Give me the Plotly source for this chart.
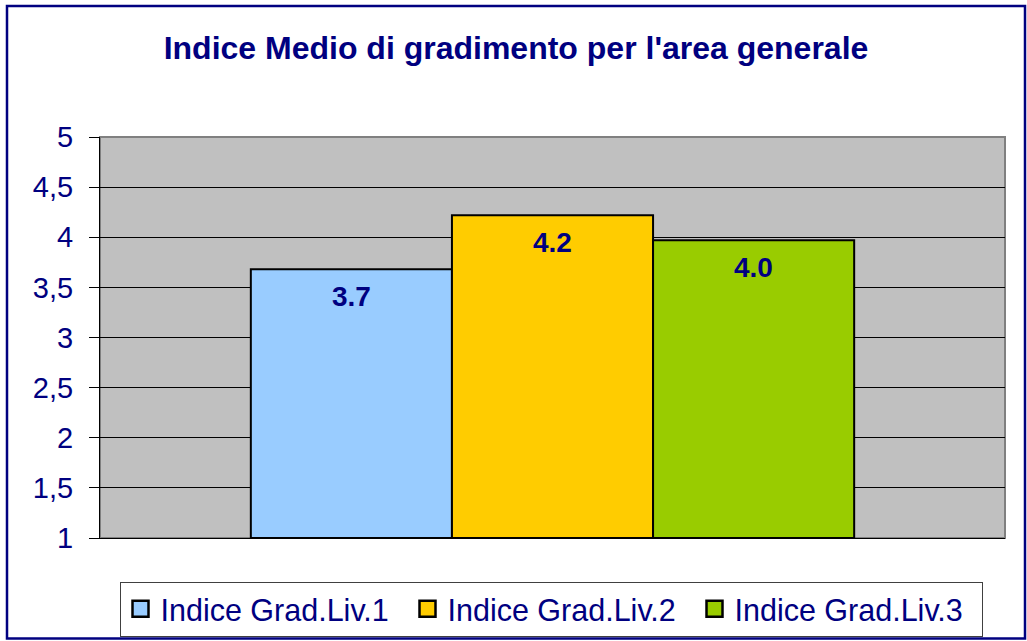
import plotly.graph_objects as go

series_names = ["Indice Grad.Liv.1", "Indice Grad.Liv.2", "Indice Grad.Liv.3"]
series_values = [3.68, 4.22, 3.97]
series_labels = ["3.7", "4.2", "4.0"]
series_colors = ["#99CCFF", "#FFCC00", "#99CC00"]
bar_positions = [0, 1, 2]
y_tickvals = [1, 1.5, 2, 2.5, 3, 3.5, 4, 4.5, 5]
y_ticktext = ["1", "1,5", "2", "2,5", "3", "3,5", "4", "4,5", "5"]

NAVY = "#000080"
FONT = "Arial, Liberation Sans, sans-serif"

fig = go.Figure()
for name, pos, val, col in zip(series_names, bar_positions, series_values, series_colors):
    fig.add_trace(go.Bar(
        x=[pos], y=[val - 1], base=1, width=1, name=name, showlegend=False,
        marker=dict(color=col, line=dict(color="black", width=2)),
        hoverinfo="skip",
    ))
# legend entries (larger square swatches)
for name, col in zip(series_names, series_colors):
    fig.add_trace(go.Scatter(
        x=[None], y=[None], mode="markers", name=name,
        marker=dict(symbol="square", size=16, color=col, line=dict(color="black", width=2.5)),
        hoverinfo="skip",
    ))

for pos, val, lab in zip(bar_positions, series_values, series_labels):
    fig.add_annotation(x=pos, y=val, text="<b>%s</b>" % lab, showarrow=False,
                       yanchor="top", yshift=-10,
                       font=dict(family=FONT, size=28, color=NAVY))

L, R, T, B = 100, 22, 137, 103
W, H = 1027, 641
pw, ph = W - L - R, H - T - B

def px_x(p):
    return (p - L) / pw

def px_y(p):
    return (H - B - p) / ph

fig.add_shape(type="rect", xref="paper", yref="paper", x0=0, x1=1, y0=0, y1=1,
              line=dict(color="#808080", width=2), layer="below")
fig.add_shape(type="rect", xref="paper", yref="paper",
              x0=px_x(7), x1=px_x(1025), y0=px_y(638.5), y1=px_y(6),
              line=dict(color=NAVY, width=2.5))

fig.update_layout(
    width=W, height=H,
    margin=dict(l=L, r=R, t=T, b=B, autoexpand=False),
    paper_bgcolor="white", plot_bgcolor="#C0C0C0",
    barmode="overlay",
    title=dict(text="<b>Indice Medio di gradimento per l'area generale</b>",
               x=px_x(516), xref="paper", xanchor="center",
               y=1 - 48 / H, yanchor="middle",
               font=dict(family=FONT, size=32, color=NAVY)),
    showlegend=True,
    legend=dict(orientation="h", x=px_x(551), xanchor="center",
                y=px_y(609), yanchor="middle",
                bgcolor="white", bordercolor="#404040", borderwidth=1,
                font=dict(family=FONT, size=30.5, color=NAVY),
                itemsizing="trace", tracegroupgap=0,
                entrywidth=242, entrywidthmode="pixels"),
    xaxis=dict(range=[-1.25, 3.25], showticklabels=False, showgrid=False,
               zeroline=False, showline=True, linecolor="black", linewidth=1,
               ticks="", fixedrange=True),
    yaxis=dict(range=[1, 5], tickvals=y_tickvals, ticktext=y_ticktext,
               showgrid=True, gridcolor="black", gridwidth=1,
               zeroline=False, showline=True, linecolor="black", linewidth=1,
               ticks="outside", ticklen=10, tickcolor="black",
               tickfont=dict(family=FONT, size=29, color=NAVY),
               ticklabelstandoff=10),
)

fig.write_html("out.html", config={"displayModeBar": False},
               post_script="document.body.style.margin='0px';document.body.style.overflow='hidden';")
